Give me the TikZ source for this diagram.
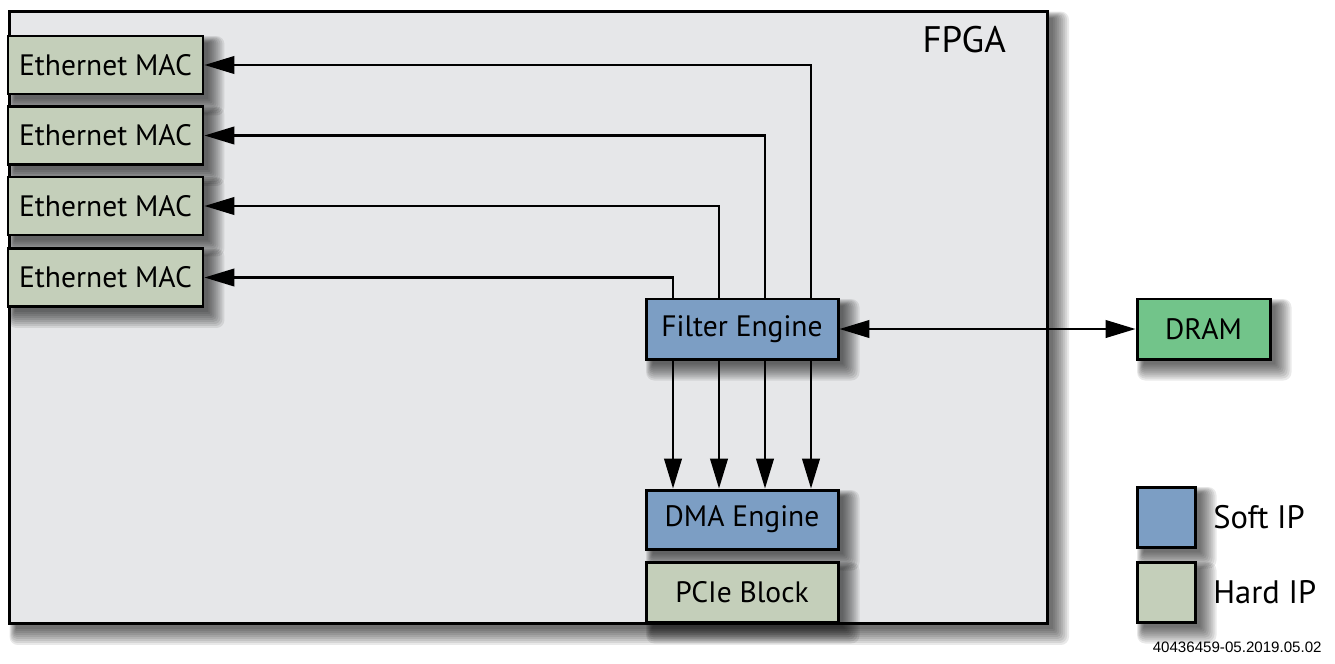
\documentclass[tikz,border=0pt]{standalone}
\usepackage{fontspec}
\setmainfont{PT Sans}
\newfontfamily\footfont{Liberation Sans}
\usetikzlibrary{arrows.meta,calc}
\definecolor{fpgafill}{HTML}{E6E7E9}
\definecolor{hardfill}{HTML}{C4CFBA}
\definecolor{softfill}{HTML}{7C9EC4}
\definecolor{dramfill}{HTML}{72C48A}
\pgfdeclarelayer{fpgashade}
\pgfdeclarelayer{fpgabody}
\pgfdeclarelayer{blockshade}
\pgfsetlayers{fpgashade,fpgabody,blockshade,main}
\tikzset{
  frame/.style={draw=black, line width=1.7pt, inner sep=0pt},
  block/.style={frame, anchor=center, font=\fontsize{16.8}{19}\selectfont},
  hardip/.style={block, fill=hardfill},
  softip/.style={block, fill=softfill},
  dram/.style={block, fill=dramfill},
  shadelayer/.style={fill=black, opacity=0.085},
  arr/.style={line width=1.2pt, -{Triangle[length=17pt,width=10pt]}},
  arrboth/.style={line width=1.2pt, {Triangle[length=17pt,width=10pt]}-{Triangle[length=17pt,width=10pt]}},
}
% soft drop shadow: stacked translucent rectangles spreading down and right
\newcommand\dropshade[1]{%
  \foreach \s in {0,2,...,16}{
    \fill[shadelayer, rounded corners=\s*0.01cm+0.1pt]
      ($(#1.north west)+(8-0.4*\s,8-0.4*\s)$) rectangle ($(#1.south east)+(4+\s,4+\s)$);
  }}
\begin{document}
\begin{tikzpicture}[x=0.02cm, y=-0.02cm]
  \useasboundingbox (0,0) rectangle (1335,663);
  % FPGA outline
  \begin{pgfonlayer}{fpgabody}
    \node[frame, fill=fpgafill, anchor=north west, minimum width=1038*0.02cm, minimum height=612*0.02cm] (fpga) at (8,10) {};
  \end{pgfonlayer}
  \begin{pgfonlayer}{fpgashade}
    \dropshade{fpga}
  \end{pgfonlayer}
  \node[anchor=base east, font=\fontsize{21}{24}\selectfont] (fpgalabel) at (1012,52) {FPGA};
  % Ethernet MACs
  \foreach \i/\y in {1/65, 2/135.5, 3/206, 4/277.5}{
    \node[hardip, minimum width=195*0.02cm, minimum height=58*0.02cm] (mac\i) at (105.5,\y) {Ethernet MAC};
  }
  % Engines and memory
  \node[softip, minimum width=192*0.02cm, minimum height=60*0.02cm] (fe) at (742,329) {Filter Engine};
  \node[softip, minimum width=192*0.02cm, minimum height=59*0.02cm] (dma) at (742,519.5) {DMA Engine};
  \node[hardip, minimum width=192*0.02cm, minimum height=60*0.02cm] (pcie) at (742,592) {PCIe Block};
  \node[dram, minimum width=133*0.02cm, minimum height=60*0.02cm] (dr) at (1203.5,329) {DRAM};
  % Legend
  \node[softip, minimum width=58*0.02cm, minimum height=60*0.02cm] (lsoft) at (1166,517) {};
  \node[hardip, minimum width=58*0.02cm, minimum height=60*0.02cm] (lhard) at (1166,592) {};
  \node[anchor=west, font=\fontsize{18.5}{21}\selectfont, inner sep=0pt] (tsoft) at (1213,517) {Soft IP};
  \node[anchor=west, font=\fontsize{18.5}{21}\selectfont, inner sep=0pt] (thard) at (1213,592) {Hard IP};
  \node[anchor=base east, font=\footfont\fontsize{8.6}{10}\selectfont, inner sep=0pt] (foot) at (1322,652) {40436459-05.2019.05.02};
  % Shadows of the blocks
  \begin{pgfonlayer}{blockshade}
    \foreach \b in {mac1,mac2,mac3,mac4,fe,dma,pcie,dr,lsoft,lhard}{
      \dropshade{\b}
    }
  \end{pgfonlayer}
  % Tap positions along the Filter Engine
  \coordinate (t1) at (673,0);
  \coordinate (t2) at (719,0);
  \coordinate (t3) at (765,0);
  \coordinate (t4) at (811,0);
  % Filter Engine to MACs
  \draw[arr] (fe.north -| t1) |- (mac4.east);
  \draw[arr] (fe.north -| t2) |- (mac3.east);
  \draw[arr] (fe.north -| t3) |- (mac2.east);
  \draw[arr] (fe.north -| t4) |- (mac1.east);
  % Filter Engine to DMA Engine
  \foreach \t in {t1,t2,t3,t4}{
    \draw[arr] (fe.south -| \t) -- (dma.north -| \t);
  }
  % Filter Engine to DRAM
  \draw[arrboth] (fe.east) -- (dr.west);
\end{tikzpicture}
\end{document}
